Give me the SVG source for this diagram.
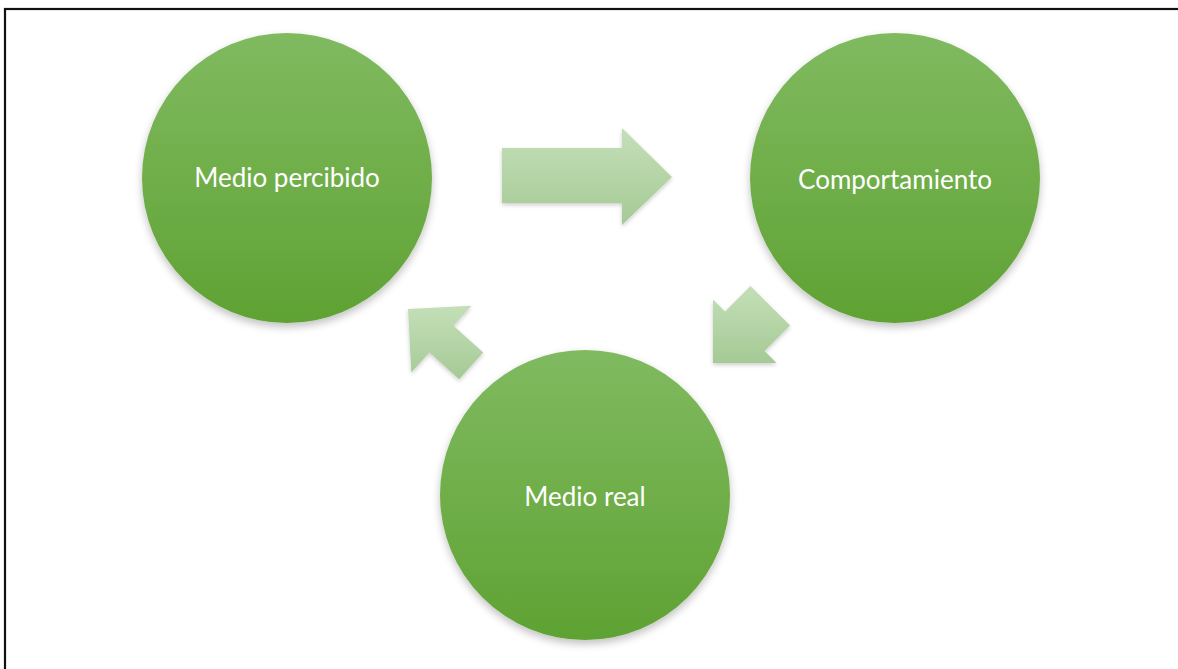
<svg xmlns="http://www.w3.org/2000/svg" width="1178" height="669" viewBox="0 0 1178 669">
  <style>
    .node-shape { fill: url(#nodeFill); filter: url(#softShadow); }
    .node-label { fill: #ffffff; font-family: Lato, "Open Sans", "Liberation Sans", sans-serif; font-size: 26px; text-anchor: middle; dominant-baseline: central; }
    .flow-arrow { fill: url(#arrowFill); filter: url(#arrowShadow); }
  </style>
  <defs>
    <linearGradient id="nodeFill" x1="0" y1="0" x2="0" y2="1">
      <stop offset="0" stop-color="#80ba60"/>
      <stop offset="1" stop-color="#5fa233"/>
    </linearGradient>
    <linearGradient id="arrowFill" x1="0" y1="0" x2="0" y2="1">
      <stop offset="0" stop-color="#c4dfb8"/>
      <stop offset="1" stop-color="#a5ca95"/>
    </linearGradient>
    <filter id="softShadow" x="-20%" y="-20%" width="140%" height="150%">
      <feGaussianBlur in="SourceAlpha" stdDeviation="4"/>
      <feOffset dx="0" dy="4" result="blur"/>
      <feComponentTransfer><feFuncA type="linear" slope="0.25"/></feComponentTransfer>
      <feMerge><feMergeNode/><feMergeNode in="SourceGraphic"/></feMerge>
    </filter>
    <filter id="arrowShadow" x="-20%" y="-20%" width="140%" height="150%">
      <feGaussianBlur in="SourceAlpha" stdDeviation="2"/>
      <feOffset dx="0" dy="2" result="blur"/>
      <feComponentTransfer><feFuncA type="linear" slope="0.2"/></feComponentTransfer>
      <feMerge><feMergeNode/><feMergeNode in="SourceGraphic"/></feMerge>
    </filter>
  </defs>

  <rect x="0" y="0" width="1178" height="669" fill="#ffffff"/>
  <!-- frame: right and bottom edges lie outside the canvas -->
  <rect x="5" y="9" width="1200" height="700" fill="none" stroke="#111111" stroke-width="2.2"/>

  <g id="connectors">
    <!-- top: Medio percibido to Comportamiento -->
    <polygon class="flow-arrow" points="502,148 622,148 622,128 672,177 622,225 622,203 502,203"/>
    <!-- right: Comportamiento to Medio real (pointing down-left) -->
    <polygon class="flow-arrow" points="750.5,285.9 725,311.4 713,299.4 713,363 776.6,363 764.6,351 790.1,325.5"/>
    <!-- left: Medio real to Medio percibido (pointing up-left) -->
    <polygon class="flow-arrow" points="459.1,379.3 429.4,352.5 411.3,372.6 408,309 471.6,305.7 453.5,325.7 483.2,352.5"/>
  </g>

  <g id="node-medio-percibido">
    <circle class="node-shape" cx="287" cy="178" r="145"/>
    <text class="node-label" x="287" y="177">Medio percibido</text>
  </g>
  <g id="node-comportamiento">
    <circle class="node-shape" cx="895" cy="178" r="145"/>
    <text class="node-label" x="895" y="179">Comportamiento</text>
  </g>
  <g id="node-medio-real">
    <circle class="node-shape" cx="585" cy="495" r="145"/>
    <text class="node-label" x="585" y="496">Medio real</text>
  </g>
</svg>
